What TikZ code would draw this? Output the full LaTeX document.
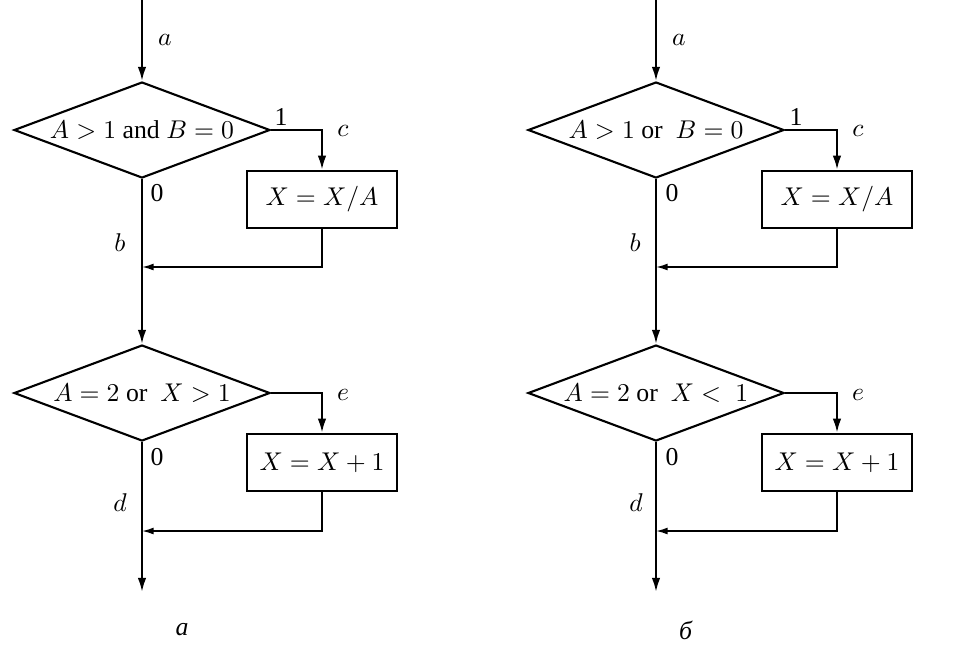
\documentclass[tikz,border=0pt]{standalone}
\usepackage{fontspec}
\setmainfont{Liberation Serif}
\usetikzlibrary{shapes.geometric, arrows.meta, positioning}
\tikzset{
  testbox/.style={diamond, draw, line width=0.9pt, aspect=2.67, inner sep=0pt, minimum width=3.84cm, minimum height=1.44cm, font=\fontsize{11}{13}\selectfont},
  actbox/.style={rectangle, draw, line width=0.9pt, inner sep=0pt, minimum width=2.25cm, minimum height=0.86cm, font=\fontsize{11}{13}\selectfont},
  arrow/.style={-{Latex[length=6pt,width=3.6pt]}, line width=0.9pt},
  backarrow/.style={-{Latex[length=5pt,width=3pt]}, line width=0.7pt},
  flowlabel/.style={font=\fontsize{11}{13}\selectfont, inner sep=1pt}
}
\begin{document}
\begin{tikzpicture}[x=0.015cm, y=-0.015cm]
  \useasboundingbox (0,0) rectangle (975,652);
  % left chart
  \coordinate (inA) at (142,0);
  \node[testbox] (dA1) at (142,130) {$A>1$ and $B=0$};
  \node[actbox] (bA1) at (322,199.5) {$X=X/A$};
  \coordinate (mA1) at (142,267);
  \node[testbox] (dA2) at (142,393) {$A=2$ or\enspace$X>1$};
  \node[actbox] (bA2) at (322,462.5) {$X=X+1$};
  \coordinate (mA2) at (142,531);
  \coordinate (outA) at (142,592);
  \draw[arrow] (inA) -- (dA1.north);
  \draw[arrow] (dA1.east) -| (bA1.north);
  \draw[backarrow] (bA1.south) |- (mA1);
  \draw[arrow] (dA1.south) -- (dA2.north);
  \draw[arrow] (dA2.east) -| (bA2.north);
  \draw[backarrow] (bA2.south) |- (mA2);
  \draw[arrow] (dA2.south) -- (outA);
  \node[flowlabel] (la) at (165,40) {$a$};
  \node[flowlabel] (lone) at (281,117) {1};
  \node[flowlabel] (lc) at (343,131) {$c$};
  \node[flowlabel] (lzero) at (157,193) {0};
  \node[flowlabel] (lb) at (120,243) {$b$};
  \node[flowlabel] (le) at (343,395) {$e$};
  \node[flowlabel] (lzerob) at (157,457) {0};
  \node[flowlabel] (ld) at (120,503) {$d$};
  \node[flowlabel] (capA) at (182,630) {\textit{a}};
  % right chart
  \coordinate (inB) at (656,0);
  \node[testbox] (dB1) at (656,130) {$A>1$ or\enspace$B=0$};
  \node[actbox] (bB1) at (837,199.5) {$X=X/A$};
  \coordinate (mB1) at (656,267);
  \node[testbox] (dB2) at (656,393) {$A=2$ or\enspace$X<\;1$};
  \node[actbox] (bB2) at (837,462.5) {$X=X+1$};
  \coordinate (mB2) at (656,531);
  \coordinate (outB) at (656,592);
  \draw[arrow] (inB) -- (dB1.north);
  \draw[arrow] (dB1.east) -| (bB1.north);
  \draw[backarrow] (bB1.south) |- (mB1);
  \draw[arrow] (dB1.south) -- (dB2.north);
  \draw[arrow] (dB2.east) -| (bB2.north);
  \draw[backarrow] (bB2.south) |- (mB2);
  \draw[arrow] (dB2.south) -- (outB);
  \node[flowlabel] (ra) at (679,40) {$a$};
  \node[flowlabel] (rone) at (796,117) {1};
  \node[flowlabel] (rc) at (858,131) {$c$};
  \node[flowlabel] (rzero) at (672,193) {0};
  \node[flowlabel] (rb) at (635,243) {$b$};
  \node[flowlabel] (re) at (858,395) {$e$};
  \node[flowlabel] (rzerob) at (672,457) {0};
  \node[flowlabel] (rd) at (636,503) {$d$};
  \node[flowlabel] (capB) at (686,630) {\textit{б}};
\end{tikzpicture}
\end{document}
